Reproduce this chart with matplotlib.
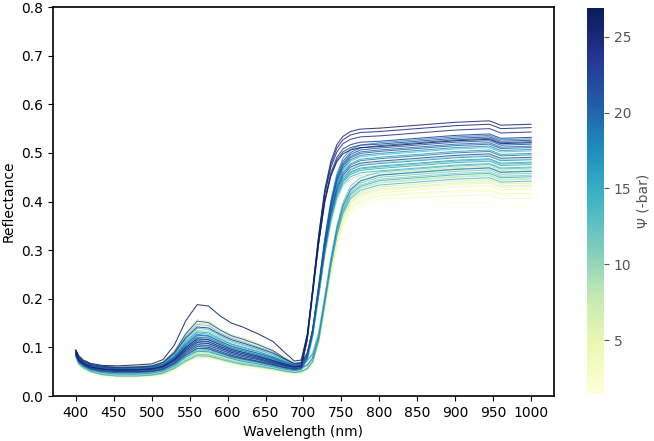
import matplotlib
matplotlib.use("Agg")
import matplotlib.pyplot as plt
from matplotlib import cm, colors

WL_VIS = [400, 404, 410, 420, 435, 455, 480, 500, 515, 530, 545,
          560, 575, 590, 605, 620, 640, 660, 675, 688, 697]
WL_NIR = [705, 712, 720, 728, 736, 744, 752, 762, 775, 800, 850, 900, 945, 960, 1000]
WAVELENGTH = WL_VIS + WL_NIR

# water potential of each spectrum (-bar)
PSI = [26.9, 25.8, 25.0, 24.2, 23.5, 22.8, 17.0, 21.3, 20.7, 20.0,
       19.4, 12.5, 18.2, 17.6, 22.0, 16.5, 16.0, 15.5, 15.0, 9.3,
       14.0, 8.0, 13.0, 18.8, 12.0, 11.3, 10.7, 10.0, 14.5, 8.6,
       13.5, 7.2, 6.5, 5.8, 5.0, 4.2, 3.5, 2.8, 2.1, 1.5]

# reflectance, one row per spectrum (same order as PSI): visible part + red edge / NIR part
REFL = [
    [.095, .083, .074, .067, .063, .062, .064, .066, .075, .105, .155, .188, .185, .165, .150, .142, .128, .112, .090, .072, .074,
     .127, .214, .315, .399, .452, .482, .498, .506, .511, .513, .519, .525, .528, .519, .521],
    [.089, .075, .067, .060, .056, .054, .054, .056, .061, .076, .100, .118, .116, .106, .096, .090, .082, .073, .066, .060, .062,
     .121, .218, .331, .424, .482, .517, .534, .544, .549, .551, .557, .563, .566, .557, .559],
    [.088, .074, .066, .059, .055, .053, .053, .055, .060, .073, .094, .110, .108, .099, .090, .084, .077, .069, .063, .059, .061,
     .119, .216, .327, .418, .476, .510, .527, .537, .542, .544, .550, .556, .559, .550, .552],
    [.094, .080, .072, .065, .061, .059, .060, .062, .069, .088, .120, .142, .140, .127, .116, .109, .099, .088, .076, .067, .069,
     .125, .218, .325, .414, .470, .502, .519, .528, .533, .535, .541, .547, .550, .541, .543],
    [.086, .072, .064, .056, .052, .050, .050, .051, .056, .068, .088, .102, .100, .092, .084, .078, .072, .065, .059, .056, .058,
     .114, .207, .314, .403, .459, .491, .508, .517, .522, .524, .530, .536, .539, .530, .532],
    [.088, .074, .066, .059, .055, .053, .054, .056, .061, .075, .097, .114, .112, .102, .093, .087, .080, .071, .064, .060, .062,
     .117, .208, .313, .399, .454, .486, .502, .511, .516, .518, .524, .530, .533, .524, .526],
    [.090, .076, .068, .061, .057, .055, .055, .057, .063, .080, .107, .127, .124, .113, .103, .096, .088, .078, .069, .062, .064,
     .087, .137, .229, .325, .402, .457, .489, .507, .516, .521, .527, .533, .536, .527, .529],
    [.087, .073, .065, .058, .053, .051, .051, .053, .058, .071, .091, .106, .104, .096, .087, .081, .075, .067, .061, .057, .059,
     .082, .131, .221, .316, .393, .447, .478, .497, .506, .510, .516, .522, .525, .516, .518],
    [.084, .070, .062, .055, .050, .048, .048, .050, .054, .066, .084, .098, .097, .089, .081, .076, .070, .063, .058, .054, .056,
     .079, .129, .221, .318, .396, .451, .483, .501, .510, .515, .521, .527, .530, .521, .523],
    [.092, .078, .070, .063, .059, .057, .058, .060, .065, .081, .106, .125, .123, .112, .102, .096, .088, .079, .070, .064, .066,
     .088, .136, .223, .315, .389, .442, .472, .490, .499, .503, .509, .515, .518, .509, .511],
    [.091, .077, .069, .062, .058, .056, .056, .058, .063, .076, .097, .113, .111, .102, .093, .087, .080, .072, .066, .062, .064,
     .086, .135, .223, .316, .391, .444, .475, .493, .502, .506, .512, .518, .521, .512, .514],
    [.084, .070, .062, .054, .049, .047, .047, .048, .053, .064, .082, .095, .094, .086, .079, .074, .068, .062, .056, .053, .055,
     .077, .126, .214, .306, .381, .434, .465, .483, .492, .496, .502, .508, .511, .502, .504],
    [.092, .078, .070, .063, .059, .057, .057, .059, .064, .079, .103, .121, .119, .109, .099, .093, .085, .076, .069, .063, .065,
     .086, .133, .217, .306, .378, .429, .458, .475, .484, .488, .494, .500, .503, .494, .496],
    [.089, .075, .067, .059, .055, .053, .053, .054, .059, .071, .091, .105, .103, .095, .087, .081, .075, .068, .062, .059, .061,
     .083, .131, .219, .311, .385, .438, .468, .486, .495, .499, .505, .511, .514, .505, .507],
    [.092, .079, .070, .063, .059, .058, .059, .061, .069, .091, .128, .154, .151, .136, .124, .117, .106, .093, .078, .066, .068,
     .089, .134, .217, .305, .375, .425, .454, .471, .479, .483, .489, .495, .498, .489, .491],
    [.083, .069, .061, .053, .048, .045, .045, .047, .051, .062, .080, .092, .091, .084, .077, .071, .066, .060, .055, .052, .054,
     .075, .122, .207, .296, .368, .419, .448, .465, .474, .478, .484, .490, .493, .484, .486],
    [.091, .077, .069, .062, .058, .056, .057, .059, .064, .078, .100, .117, .115, .105, .096, .090, .083, .074, .067, .063, .065,
     .086, .133, .218, .308, .380, .431, .461, .478, .487, .491, .497, .503, .506, .497, .499],
    [.090, .076, .068, .061, .057, .056, .056, .058, .064, .082, .112, .132, .130, .118, .107, .101, .092, .081, .071, .063, .065,
     .085, .130, .212, .298, .367, .416, .444, .461, .469, .473, .479, .485, .488, .479, .481],
    [.090, .076, .068, .061, .056, .054, .054, .056, .061, .074, .094, .109, .107, .099, .090, .084, .078, .070, .064, .060, .062,
     .082, .127, .208, .293, .362, .411, .440, .456, .464, .468, .474, .480, .483, .474, .476],
    [.087, .073, .065, .058, .053, .051, .051, .053, .057, .069, .087, .101, .100, .092, .084, .079, .073, .066, .061, .057, .059,
     .080, .126, .211, .299, .371, .421, .451, .467, .476, .480, .486, .492, .495, .486, .488],
    [.093, .079, .071, .064, .060, .058, .058, .060, .066, .083, .110, .130, .127, .116, .106, .099, .091, .081, .072, .065, .067,
     .087, .130, .210, .293, .360, .408, .435, .451, .459, .463, .469, .475, .478, .469, .471],
    [.082, .068, .060, .052, .047, .044, .044, .046, .050, .060, .077, .089, .088, .081, .074, .069, .064, .059, .054, .051, .053,
     .073, .118, .199, .284, .353, .401, .430, .446, .454, .458, .464, .470, .473, .464, .466],
    [.089, .075, .067, .060, .056, .054, .055, .057, .062, .078, .103, .122, .120, .109, .099, .093, .085, .076, .067, .061, .063,
     .083, .128, .210, .296, .365, .414, .442, .459, .467, .471, .477, .483, .486, .477, .479],
    [.087, .073, .065, .057, .052, .050, .050, .051, .056, .067, .085, .098, .097, .089, .082, .077, .071, .065, .059, .056, .058,
     .064, .078, .121, .197, .276, .343, .391, .424, .442, .454, .460, .466, .469, .460, .462],
    [.091, .078, .070, .063, .059, .057, .058, .060, .067, .088, .123, .147, .145, .130, .119, .112, .101, .090, .076, .065, .067,
     .073, .087, .130, .205, .284, .351, .398, .432, .449, .461, .467, .473, .476, .467, .469],
    [.081, .067, .059, .051, .045, .043, .043, .044, .048, .059, .075, .086, .085, .079, .072, .067, .063, .057, .052, .049, .051,
     .057, .071, .115, .191, .271, .338, .386, .420, .438, .450, .456, .462, .465, .456, .458],
    [.086, .072, .064, .056, .051, .048, .048, .050, .054, .065, .083, .095, .094, .087, .080, .074, .069, .063, .058, .055, .057,
     .063, .077, .119, .193, .271, .337, .384, .417, .434, .446, .452, .458, .461, .452, .454],
    [.093, .079, .071, .064, .060, .059, .059, .061, .067, .085, .115, .135, .133, .121, .110, .104, .095, .084, .074, .066, .068,
     .074, .087, .130, .204, .281, .347, .393, .426, .443, .455, .461, .467, .470, .461, .463],
    [.080, .066, .058, .050, .044, .041, .041, .043, .047, .057, .072, .083, .082, .076, .070, .065, .061, .056, .051, .048, .050,
     .056, .070, .113, .188, .266, .333, .380, .414, .431, .443, .449, .455, .458, .449, .451],
    [.085, .071, .063, .055, .050, .047, .047, .049, .053, .063, .080, .092, .091, .084, .077, .072, .067, .062, .057, .054, .056,
     .062, .075, .117, .190, .266, .331, .377, .409, .427, .438, .444, .450, .453, .444, .446],
    [.091, .077, .069, .062, .058, .056, .057, .059, .066, .085, .117, .139, .137, .124, .113, .106, .096, .085, .073, .064, .066,
     .072, .084, .125, .195, .268, .331, .375, .406, .423, .434, .440, .446, .449, .440, .442],
    [.079, .065, .057, .049, .043, .040, .040, .042, .045, .055, .070, .080, .080, .074, .068, .063, .059, .054, .050, .047, .049,
     .055, .069, .112, .186, .264, .331, .377, .411, .428, .440, .446, .452, .455, .446, .448],
    [.094, .081, .073, .066, .062, .060, .061, .063, .070, .091, .126, .150, .148, .133, .122, .115, .104, .093, .079, .068, .070,
     .075, .088, .128, .196, .268, .329, .372, .403, .419, .430, .436, .442, .445, .436, .438],
    [.084, .070, .062, .054, .048, .046, .046, .047, .051, .062, .078, .089, .088, .082, .075, .070, .066, .060, .055, .052, .054,
     .060, .073, .114, .184, .259, .322, .367, .398, .415, .426, .432, .438, .441, .432, .434],
    [.095, .082, .073, .066, .062, .061, .062, .064, .072, .094, .131, .157, .154, .139, .127, .120, .109, .096, .081, .069, .071,
     .076, .089, .127, .194, .265, .324, .367, .397, .412, .423, .429, .435, .438, .429, .431],
    [.083, .069, .061, .053, .047, .044, .044, .046, .050, .060, .075, .086, .085, .079, .073, .068, .064, .059, .054, .051, .053,
     .059, .071, .111, .181, .254, .316, .360, .391, .407, .418, .424, .430, .433, .424, .426],
    [.082, .068, .060, .052, .046, .043, .043, .045, .048, .058, .073, .083, .083, .077, .071, .066, .062, .057, .053, .050, .052,
     .057, .070, .110, .178, .251, .312, .355, .386, .402, .413, .418, .422, .424, .416, .417],
    [.076, .062, .054, .046, .040, .037, .037, .039, .042, .052, .067, .077, .077, .071, .065, .060, .056, .051, .047, .044, .046,
     .051, .064, .103, .172, .244, .305, .348, .378, .394, .405, .409, .412, .414, .406, .406],
    [.085, .071, .063, .056, .051, .049, .049, .051, .055, .067, .086, .100, .099, .091, .083, .077, .071, .064, .059, .055, .057,
     .062, .075, .114, .181, .251, .311, .354, .384, .399, .410, .415, .419, .421, .413, .414],
    [.077, .063, .055, .047, .041, .039, .039, .040, .044, .055, .071, .082, .081, .075, .068, .063, .059, .053, .048, .045, .047,
     .052, .065, .104, .171, .241, .301, .344, .374, .389, .400, .399, .398, .398, .391, .389],
]

XTICKS = [400, 450, 500, 550, 600, 650, 700, 750, 800, 850, 900, 950, 1000]
CBAR_TICKS = [5, 10, 15, 20, 25]
PSI_MIN, PSI_MAX = 1.45, 26.9

cmap = matplotlib.colormaps['YlGnBu']
norm = colors.Normalize(vmin=PSI_MIN, vmax=PSI_MAX)

fig = plt.figure(figsize=(6.54, 4.41), dpi=100)
ax = fig.add_axes([0.081, 0.102, 0.766, 0.882])

# light spectra first so the dark ones sit on top
for psi, row in sorted(zip(PSI, REFL), key=lambda t: t[0]):
    ax.plot(WAVELENGTH, row, color=cmap(norm(psi)), lw=0.75, alpha=0.85)

ax.set_xlim(370, 1030)
ax.set_ylim(0, 0.8)
ax.set_xticks(XTICKS)
ax.set_xlabel('Wavelength (nm)')
ax.set_ylabel('Reflectance')
for s in ax.spines.values():
    s.set_linewidth(1.2)

grey = '#555555'
cax = fig.add_axes([0.8976, 0.1066, 0.026, 0.8754])
sm = cm.ScalarMappable(norm=norm, cmap=cmap)
cbar = fig.colorbar(sm, cax=cax)
cbar.outline.set_visible(False)
cbar.set_ticks(CBAR_TICKS)
cbar.ax.tick_params(colors=grey, labelcolor=grey)
cbar.set_label('Ψ (-bar)', color=grey)

fig.savefig('out.png', dpi=100)
